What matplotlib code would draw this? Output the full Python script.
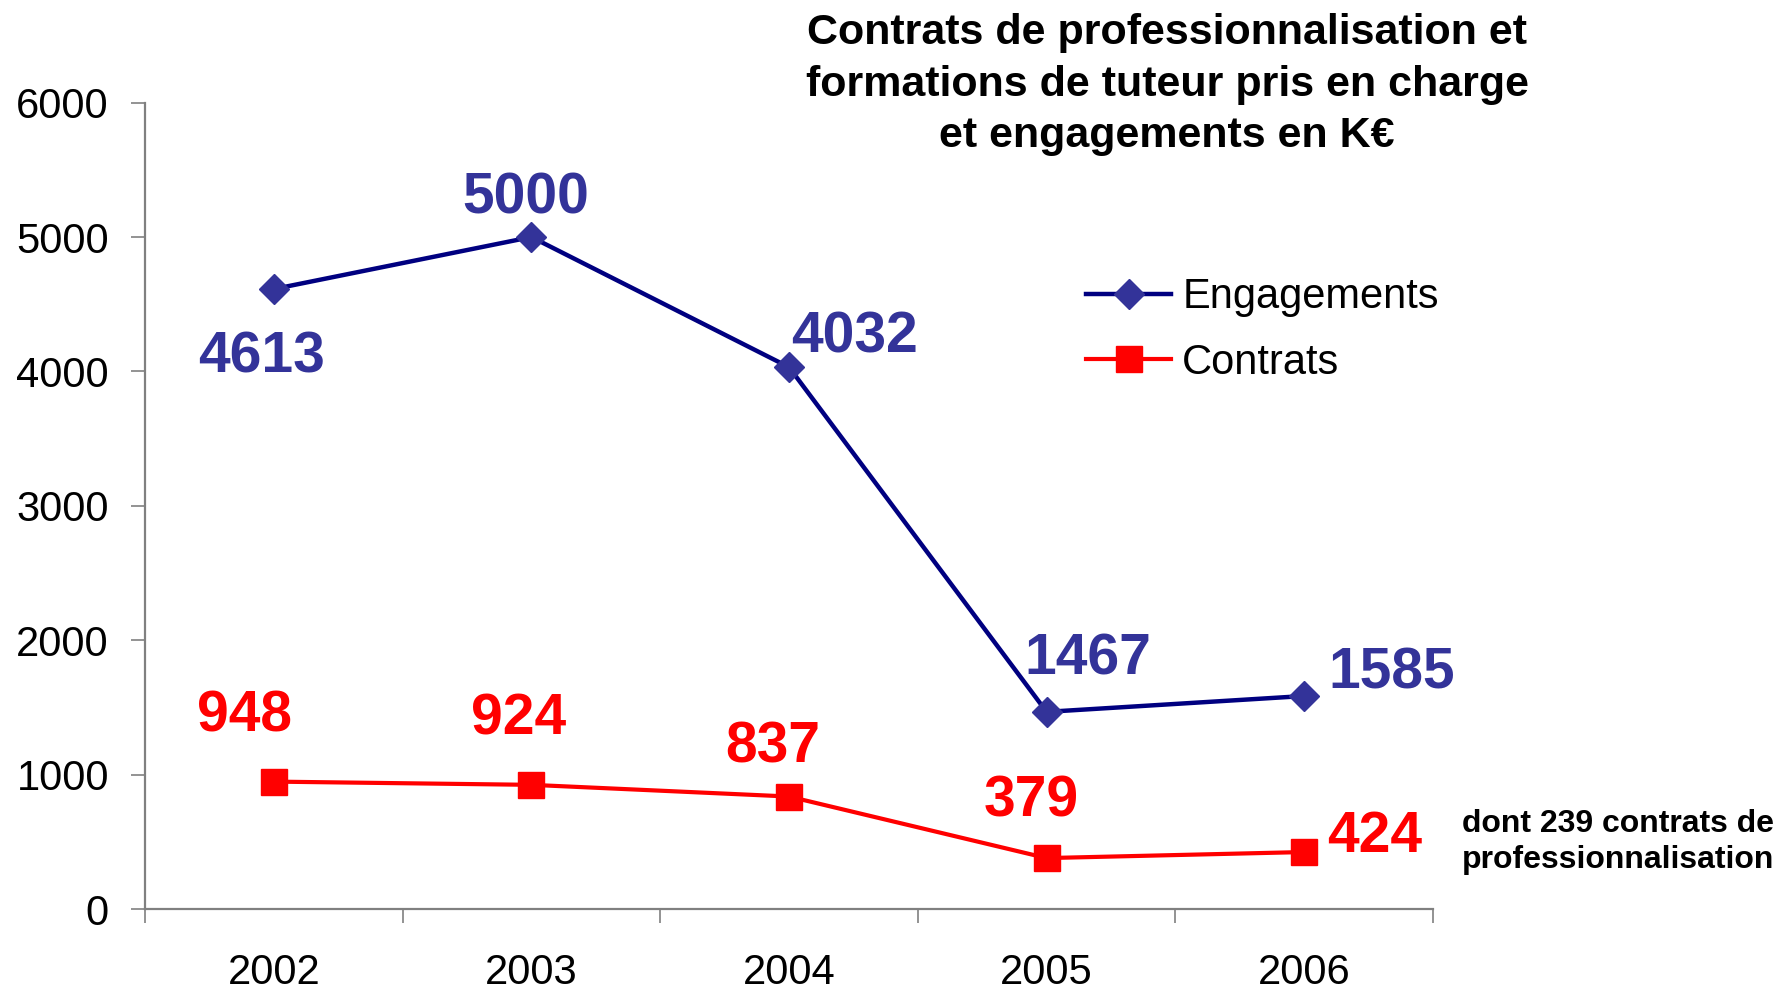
"""
plot.py
=======
Contrats de professionnalisation et formations de tuteur pris en charge,
et engagements en K€ (2002-2006).

Usage
-----
    python plot.py
"""

import matplotlib
matplotlib.use("Agg")
import matplotlib.pyplot as plt
from matplotlib.ticker import FixedLocator

# ---------------------------------------------------------------------------
# Data
# ---------------------------------------------------------------------------

YEARS = ["2002", "2003", "2004", "2005", "2006"]
ENGAGEMENTS = [4613, 5000, 4032, 1467, 1585]
CONTRATS = [948, 924, 837, 379, 424]

TITLE = ("Contrats de professionnalisation et\n"
         "formations de tuteur pris en charge\n"
         "et engagements en K€")
NOTE = "dont 239 contrats de\nprofessionnalisation"

# label offsets in points (label centre relative to the data point)
ENG_OFFSETS = [(-9, -49), (-4, 28), (47, 21), (30, 38), (63, 16)]
CON_OFFSETS = [(-21, 47), (-9, 47), (-12, 35), (-11, 41), (51, 11)]

BLUE_LINE = "#000080"
BLUE_MARK = "#333399"
RED = "#FF0000"
AXIS_GRAY = "#808080"

plt.rcParams["font.family"] = ["Liberation Sans", "DejaVu Sans"]


def main() -> None:
    fig = plt.figure(figsize=(17.79, 9.90), dpi=100)
    ax = fig.add_axes([0.0815, 0.0818, 0.724, 0.8145])

    x = list(range(len(YEARS)))

    ax.plot(x, ENGAGEMENTS, color=BLUE_LINE, linewidth=3.2, marker="D",
            markersize=15, markerfacecolor=BLUE_MARK,
            markeredgecolor=BLUE_MARK, label="Engagements", zorder=3)
    ax.plot(x, CONTRATS, color=RED, linewidth=3.0, marker="s",
            markersize=19, markerfacecolor=RED, markeredgecolor=RED,
            label="Contrats", zorder=3)

    # value labels
    for xi, v, off in zip(x, ENGAGEMENTS, ENG_OFFSETS):
        ax.annotate(str(v), (xi, v), xytext=off, textcoords="offset points",
                    ha="center", va="center", fontsize=41,
                    fontweight="bold", color=BLUE_MARK)
    for xi, v, off in zip(x, CONTRATS, CON_OFFSETS):
        ax.annotate(str(v), (xi, v), xytext=off, textcoords="offset points",
                    ha="center", va="center", fontsize=41,
                    fontweight="bold", color=RED)

    # axes
    ax.set_xlim(-0.5, len(YEARS) - 0.5)
    ax.set_ylim(0, 6000)
    ax.set_yticks(range(0, 6001, 1000))
    ax.set_xticks(x)
    ax.set_xticklabels(YEARS)
    ax.xaxis.set_minor_locator(
        FixedLocator([i - 0.5 for i in range(len(YEARS) + 1)]))

    ax.tick_params(axis="x", which="major", length=0, pad=32,
                   labelsize=30)
    ax.tick_params(axis="x", which="minor", length=10, width=1.2,
                   direction="out", color=AXIS_GRAY)
    ax.tick_params(axis="y", length=10, width=1.2, direction="out",
                   color=AXIS_GRAY, pad=16, labelsize=30)

    for side in ("top", "right"):
        ax.spines[side].set_visible(False)
    for side in ("left", "bottom"):
        ax.spines[side].set_color(AXIS_GRAY)
        ax.spines[side].set_linewidth(1.6)

    ax.legend(loc="center left", bbox_to_anchor=(0.6105, 0.6665),
              bbox_transform=fig.transFigure, frameon=False, fontsize=30,
              handlelength=2.05, handletextpad=0.26, labelspacing=0.62,
              borderpad=0, borderaxespad=0)

    fig.text(0.656, 0.9145, TITLE, ha="center", va="center", fontsize=31,
             fontweight="bold", linespacing=1.38)
    fig.text(0.822, 0.1495, NOTE, ha="left", va="center", fontsize=23,
             fontweight="bold", linespacing=1.22)

    fig.savefig("out.png", dpi=100)
    plt.close(fig)


if __name__ == "__main__":
    main()
